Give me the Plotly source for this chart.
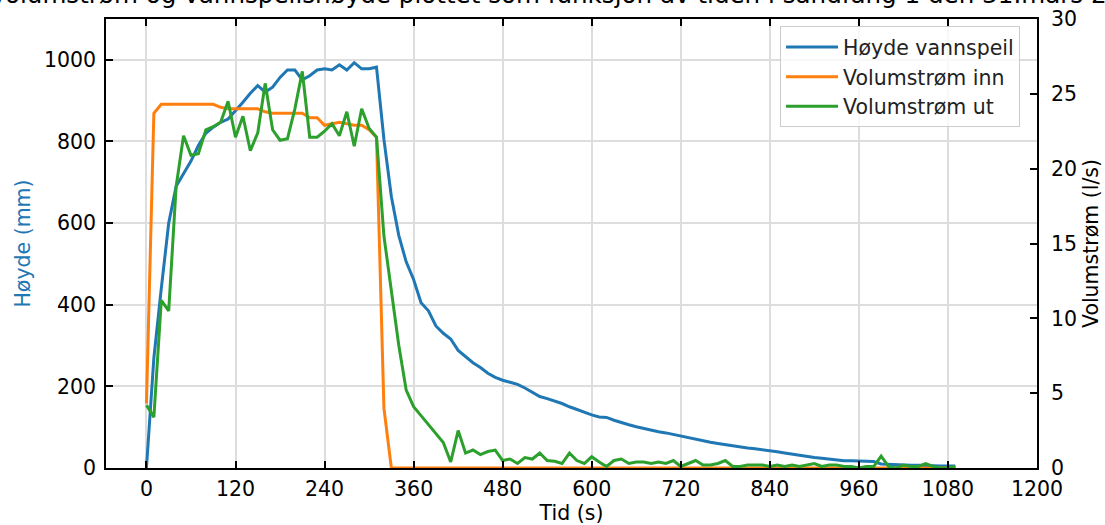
import plotly.graph_objects as go

# Sampling times (s)
tid = [
    0, 10, 20, 30, 40, 50, 60, 70, 80, 90,
    100, 110, 120, 130, 140, 150, 160, 170, 180, 190,
    200, 210, 220, 230, 240, 250, 260, 270, 280, 290,
    300, 310, 320, 330, 340, 350, 360, 370, 380, 390,
    400, 410, 420, 430, 440, 450, 460, 470, 480, 490,
    500, 510, 520, 530, 540, 550, 560, 570, 580, 590,
    600, 610, 620, 630, 640, 650, 660, 670, 680, 690,
    700, 710, 720, 730, 740, 750, 760, 770, 780, 790,
    800, 810, 820, 830, 840, 850, 860, 870, 880, 890,
    900, 910, 920, 930, 940, 950, 960, 970, 980, 990,
    1000, 1010, 1020, 1030, 1040, 1050, 1060, 1070, 1080, 1090,
]

# Water level (mm)
hoyde = [
    0, 270, 440, 600, 690, 720, 752, 790, 820, 835,
    847, 855, 875, 896, 918, 937, 921, 933, 957, 975,
    975, 951, 961, 975, 978, 975, 988, 975, 993, 978,
    978, 982, 805, 665, 570, 505, 462, 405, 385, 348,
    330, 316, 288, 272, 258, 246, 232, 222, 215, 210,
    205, 196, 186, 175, 170, 164, 158, 150, 143, 137,
    130, 125, 124, 117, 111, 106, 101, 97, 92, 89,
    86, 82, 79, 75, 71, 67, 63, 60, 57, 54,
    51, 49, 47, 45, 43, 40, 37, 34, 31, 28,
    26, 24, 22, 20, 18, 18, 17, 17, 16, 10,
    9, 9, 8, 7, 7, 6, 6, 5, 5, 5,
]

# Inflow (l/s)
q_inn = [
    4.3, 23.7, 24.3, 24.3, 24.3, 24.3, 24.3, 24.3, 24.3, 24.3,
    24.1, 24.0, 24.0, 24.0, 24.0, 24.0, 23.8, 23.7, 23.7, 23.7,
    23.7, 23.7, 23.4, 23.4, 22.9, 23.0, 23.1, 23.0, 22.9, 22.9,
    22.6, 22.1, 4.0, 0, 0, 0, 0, 0, 0, 0,
    0, 0, 0, 0, 0, 0, 0, 0, 0, 0,
    0, 0, 0, 0, 0, 0, 0, 0, 0, 0,
    0, 0, 0, 0, 0, 0, 0, 0, 0, 0,
    0, 0, 0, 0, 0, 0, 0, 0, 0, 0,
    0, 0, 0, 0, 0, 0, 0, 0, 0, 0,
    0, 0, 0, 0, 0, 0, 0, 0, 0, 0,
    0, 0, 0, 0, 0, 0, 0, 0, 0, 0,
]

# Outflow (l/s)
q_ut = [
    4.2, 3.4, 11.2, 10.5, 18.8, 22.2, 20.9, 21.0, 22.6, 22.8,
    23.1, 24.5, 22.1, 23.5, 21.2, 22.4, 25.7, 22.6, 21.9, 22.0,
    24.0, 26.5, 22.1, 22.1, 22.5, 23.0, 22.2, 23.8, 21.5, 24.0,
    22.7, 22.1, 15.5, 11.8, 8.2, 5.2, 4.1, 3.5, 2.9, 2.3,
    1.7, 0.4, 2.5, 1.0, 1.2, 0.9, 1.1, 1.2, 0.5, 0.6,
    0.3, 0.7, 0.6, 1.0, 0.5, 0.45, 0.3, 1.0, 0.5, 0.3,
    0.75, 0.4, 0.1, 0.5, 0.6, 0.3, 0.4, 0.4, 0.3, 0.4,
    0.3, 0.5, 0.1, 0.3, 0.5, 0.2, 0.2, 0.3, 0.5, 0.1,
    0.1, 0.2, 0.2, 0.2, 0.1, 0.2, 0.1, 0.2, 0.1, 0.2,
    0.3, 0.1, 0.2, 0.2, 0.1, 0.1, 0.0, 0.1, 0.1, 0.8,
    0.1, 0.0, 0.2, 0.1, 0.1, 0.3, 0.1, 0.0, 0.0, 0.1,
]

x_ticks = [0, 120, 240, 360, 480, 600, 720, 840, 960, 1080, 1200]
y_ticks = [0, 200, 400, 600, 800, 1000]
y2_ticks = [0, 5, 10, 15, 20, 25, 30]

tittel = "Volumstrøm og vannspeilshøyde plottet som funksjon av tiden i sandfang 1 den 31.mars 2017"

BLUE, ORANGE, GREEN = "#1f77b4", "#ff7f0e", "#2ca02c"
FONT = "DejaVu Sans"
FS = 20.5

fig = go.Figure()
fig.add_trace(go.Scatter(x=tid, y=hoyde, mode="lines", name="Høyde vannspeil",
                         line=dict(color=BLUE, width=3), yaxis="y"))
fig.add_trace(go.Scatter(x=tid, y=q_inn, mode="lines", name="Volumstrøm inn",
                         line=dict(color=ORANGE, width=3), yaxis="y2"))
fig.add_trace(go.Scatter(x=tid, y=q_ut, mode="lines", name="Volumstrøm ut",
                         line=dict(color=GREEN, width=3), yaxis="y2"))

axis_common = dict(
    ticks="inside", ticklen=7, tickwidth=1.6, tickcolor="black",
    showline=True, linecolor="black", linewidth=1.6, automargin=False,
    zeroline=False, tickfont=dict(family=FONT, size=FS, color="black"),
)

fig.update_layout(
    width=1105, height=525,
    margin=dict(l=106, r=68, t=19, b=57),
    paper_bgcolor="white", plot_bgcolor="white",
    font=dict(family=FONT, size=FS, color="black"),
    showlegend=True,
    legend=dict(
        x=0.724, y=0.984, xanchor="left", yanchor="top",
        bgcolor="rgba(255,255,255,0.8)", bordercolor="#cccccc", borderwidth=1,
        itemwidth=52,
        font=dict(family=FONT, size=FS, color="#222222"),
    ),
    xaxis=dict(
        range=[-54.5, 1200], tickvals=x_ticks, ticktext=[str(v) for v in x_ticks],
        mirror="ticks", showgrid=True, gridcolor="#dddddd", gridwidth=2,
        ticklabelstandoff=2,
        title=dict(text="Tid (s)", font=dict(family=FONT, size=FS), standoff=6),
        **axis_common,
    ),
    yaxis=dict(
        range=[0, 1100], tickvals=y_ticks, ticktext=[str(v) for v in y_ticks],
        showgrid=True, gridcolor="#dddddd", gridwidth=2, ticklabelstandoff=4,
        title=dict(text="Høyde (mm)", font=dict(family=FONT, size=FS, color=BLUE), standoff=8),
        **axis_common,
    ),
    yaxis2=dict(
        range=[0, 30], tickvals=y2_ticks, ticktext=[str(v) for v in y2_ticks],
        overlaying="y", side="right", showgrid=False, ticklabelstandoff=8,
        title=dict(text="Volumstrøm (l/s)", font=dict(family=FONT, size=FS), standoff=8),
        **axis_common,
    ),
    annotations=[dict(
        text=tittel, xref="paper", yref="paper", x=0.5, y=1.018,
        xanchor="center", yanchor="bottom", showarrow=False,
        font=dict(family=FONT, size=24.6, color="black"),
    )],
)

fig.write_html("out.html")
